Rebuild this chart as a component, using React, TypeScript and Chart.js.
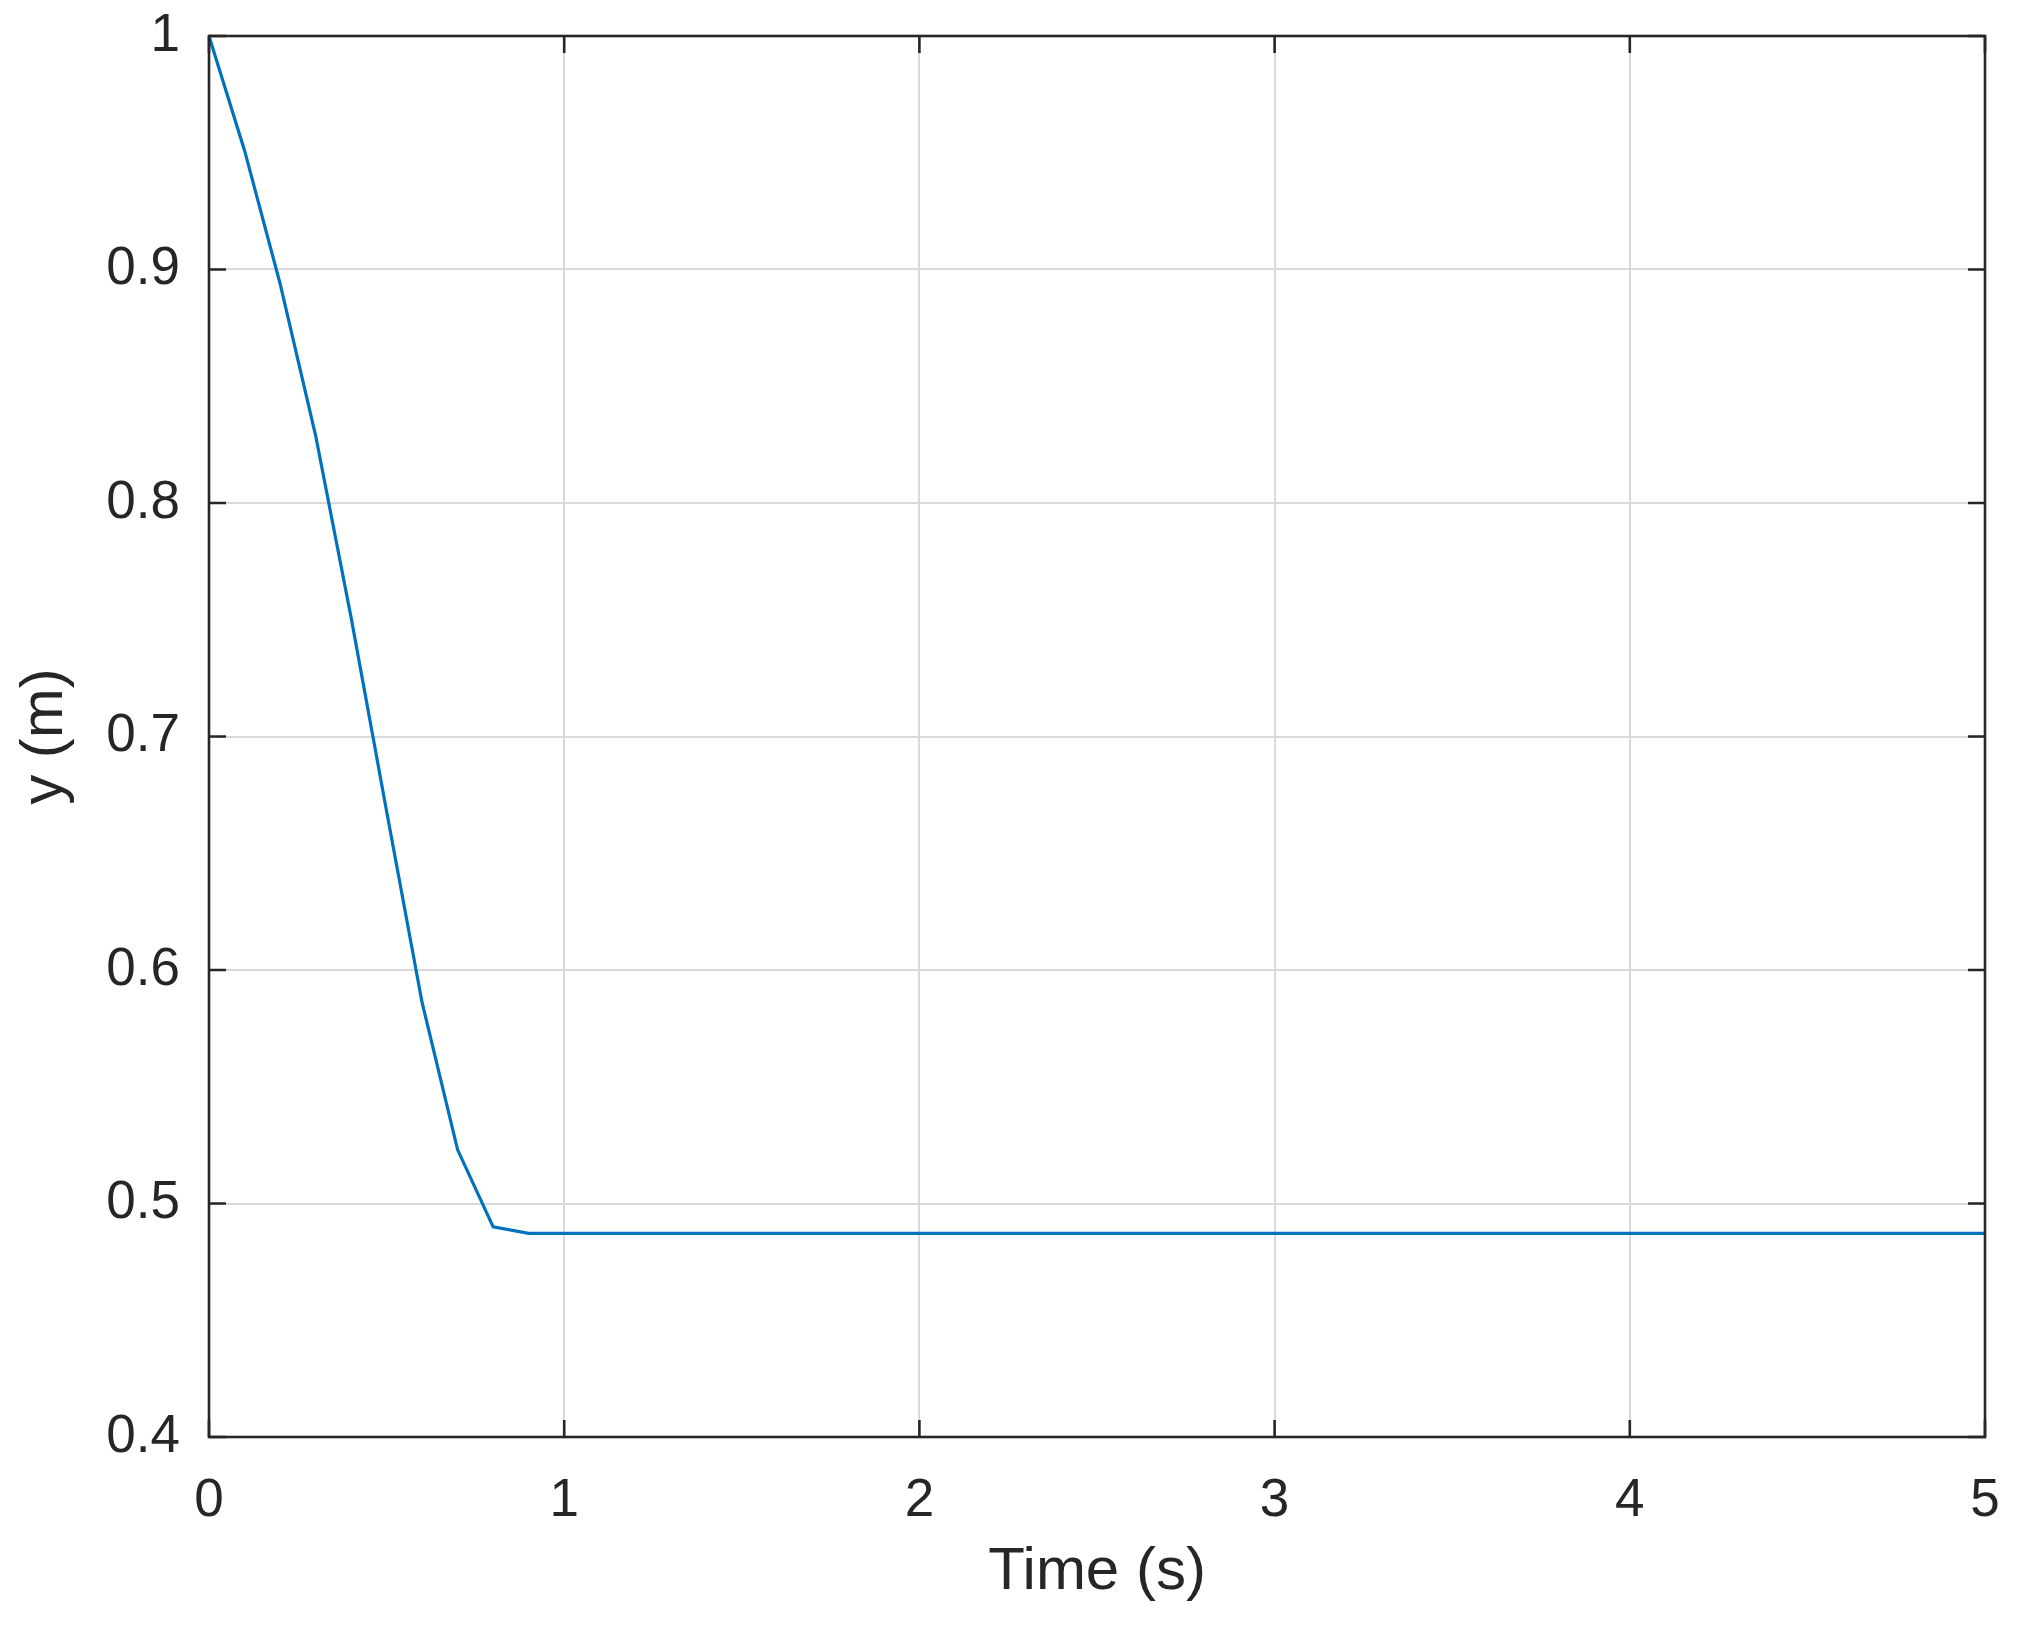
import React, { useEffect, useRef } from "react";
import { Chart, registerables } from "chart.js";

Chart.register(...registerables);

// ---- data ----
const timeS = [0, 0.1, 0.2, 0.3, 0.4, 0.5, 0.6, 0.7, 0.8, 0.9, 1.0, 5.0];
const yM = [1.0, 0.951, 0.894, 0.829, 0.751, 0.668, 0.586, 0.523, 0.49, 0.4872, 0.4872, 0.4872];

const xTickValues = [0, 1, 2, 3, 4, 5];
const xTickLabels = ["0", "1", "2", "3", "4", "5"];
const yTickValues = [0.4, 0.5, 0.6, 0.7, 0.8, 0.9, 1.0];
const yTickLabels = ["0.4", "0.5", "0.6", "0.7", "0.8", "0.9", "1"];

const xTitle = "Time (s)";
const yTitle = "y (m)";

// ---- styles ----
const W = 2022;
const H = 1626;
const FONT = "'Liberation Sans', Arial, Helvetica, sans-serif";
const AXIS_COLOR = "#262626";
const GRID_COLOR = "#d9d9d9";
const LINE_COLOR = "#0072BD";

const boxPlugin = {
  id: "matlabBox",
  afterDraw(chart: any) {
    const { ctx, chartArea, scales } = chart;
    const { left, right, top, bottom } = chartArea;
    const x = scales.x;
    const y = scales.y;
    const tl = 17;
    ctx.save();
    ctx.strokeStyle = AXIS_COLOR;
    ctx.lineWidth = 2.6;
    ctx.beginPath();
    x.ticks.forEach((t: any) => {
      const px = x.getPixelForValue(t.value);
      ctx.moveTo(px, bottom);
      ctx.lineTo(px, bottom - tl);
      ctx.moveTo(px, top);
      ctx.lineTo(px, top + tl);
    });
    y.ticks.forEach((t: any) => {
      const py = y.getPixelForValue(t.value);
      ctx.moveTo(left, py);
      ctx.lineTo(left + tl, py);
      ctx.moveTo(right, py);
      ctx.lineTo(right - tl, py);
    });
    ctx.stroke();
    ctx.lineJoin = "miter";
    ctx.strokeRect(left, top, right - left, bottom - top);
    ctx.restore();
  },
};

export default function App() {
  const ref = useRef<HTMLCanvasElement | null>(null);

  useEffect(() => {
    document.body.style.margin = "0";
    const canvas = ref.current;
    if (!canvas) return;
    const chart = new Chart(canvas, {
      type: "line",
      data: {
        datasets: [
          {
            data: timeS.map((t, i) => ({ x: t, y: yM[i] })),
            borderColor: LINE_COLOR,
            borderWidth: 3.2,
            pointRadius: 0,
            fill: false,
            tension: 0,
          },
        ],
      },
      options: {
        animation: false,
        responsive: false,
        maintainAspectRatio: false,
        devicePixelRatio: 1,
        layout: { padding: { top: 36, right: 37, left: 0, bottom: 0 } },
        plugins: {
          legend: { display: false },
          tooltip: { enabled: false },
          title: { display: false },
        },
        scales: {
          x: {
            type: "linear",
            min: 0,
            max: 5,
            afterBuildTicks: (s: any) => {
              s.ticks = xTickValues.map((v) => ({ value: v }));
            },
            afterFit: (s: any) => {
              s.height = 189;
              s.paddingLeft = 0;
              s.paddingRight = 0;
            },
            grid: { color: GRID_COLOR, lineWidth: 2, drawTicks: false },
            border: { display: false },
            ticks: {
              padding: 33,
              color: AXIS_COLOR,
              font: { family: FONT, size: 53 },
              maxRotation: 0,
              callback: (v: any) => xTickLabels[xTickValues.indexOf(Number(v))] ?? "",
            },
            title: {
              display: true,
              text: xTitle,
              color: AXIS_COLOR,
              font: { family: FONT, size: 60 },
              padding: { top: 0, bottom: 18 },
            },
          },
          y: {
            type: "linear",
            min: 0.4,
            max: 1,
            afterBuildTicks: (s: any) => {
              s.ticks = yTickValues.map((v) => ({ value: v }));
            },
            afterFit: (s: any) => {
              s.width = 209;
              s.paddingTop = 0;
              s.paddingBottom = 0;
            },
            grid: { color: GRID_COLOR, lineWidth: 2, drawTicks: false },
            border: { display: false },
            ticks: {
              padding: 29,
              color: AXIS_COLOR,
              font: { family: FONT, size: 53 },
              callback: (v: any) => {
                const i = yTickValues.findIndex((t) => Math.abs(t - Number(v)) < 1e-9);
                return i >= 0 ? yTickLabels[i] : "";
              },
            },
            title: {
              display: true,
              text: yTitle,
              color: AXIS_COLOR,
              font: { family: FONT, size: 60 },
              padding: { top: 9, bottom: 0 },
            },
          },
        },
      },
      plugins: [boxPlugin],
    } as any);
    return () => chart.destroy();
  }, []);

  return (
    <div style={{ position: "absolute", left: 0, top: 0, width: W, height: H, background: "#fff" }}>
      <canvas ref={ref} width={W} height={H} style={{ display: "block", width: W, height: H }} />
    </div>
  );
}
